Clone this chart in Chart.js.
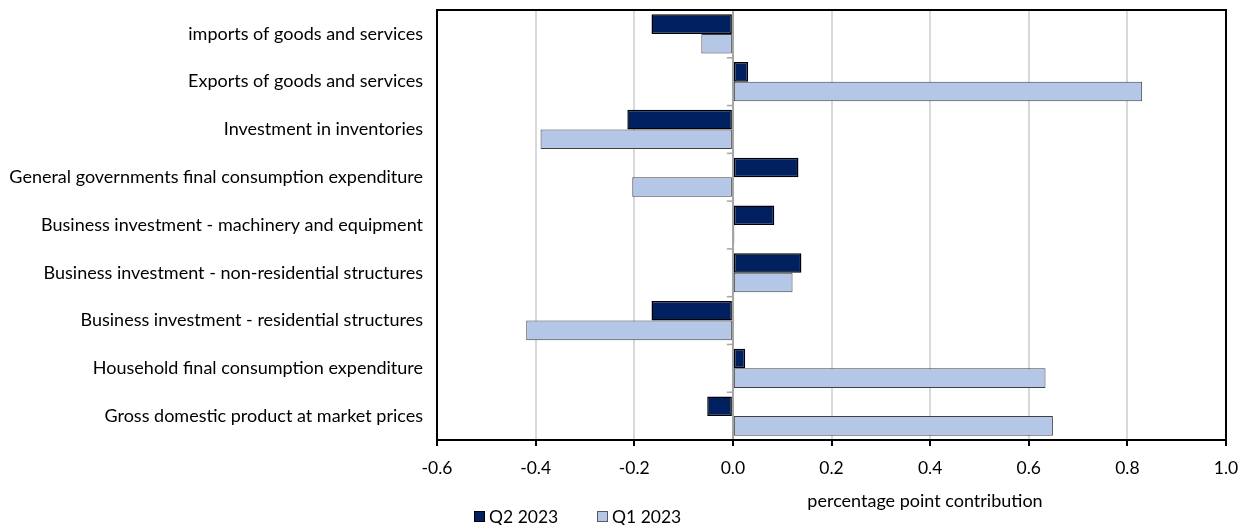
<!DOCTYPE html>
<html>
<head>
<meta charset="utf-8">
<script src="https://cdn.jsdelivr.net/npm/chart.js@4.4.1/dist/chart.umd.min.js"></script>
<style>
  html, body { margin: 0; padding: 0; background: #ffffff; }
  #wrap { position: relative; width: 1249px; height: 525px; }
</style>
</head>
<body>
<div id="wrap"><canvas id="contrib"></canvas></div>
<script>
// Chart data
const categories = [
    "imports of goods and services",
    "Exports of goods and services",
    "Investment in inventories",
    "General governments final consumption expenditure",
    "Business investment - machinery and equipment",
    "Business investment - non-residential structures",
    "Business investment - residential structures",
    "Household final consumption expenditure",
    "Gross domestic product at market prices"
];
const q2Values = [-0.165, 0.031, -0.214, 0.133, 0.084, 0.139, -0.165, 0.025, -0.052];
const q1Values = [-0.064, 0.830, -0.390, -0.204, 0.003, 0.121, -0.419, 0.634, 0.649];
const seriesNames = ["Q2 2023", "Q1 2023"];
const xTicks = [-0.6, -0.4, -0.2, 0.0, 0.2, 0.4, 0.6, 0.8, 1.0];
const axisTitle = "percentage point contribution";

const FONT = "Lato, 'Noto Sans', sans-serif";
const NAVY = "#002060";
const LIGHT = "#b4c7e7";

//====================================
// Frame, zero-line ticks, axis title and legend drawn after the chart
const extras = {
    id: "extras",
    afterDraw(chart){
        const ctx = chart.ctx;
        const a = chart.chartArea;
        const xs = chart.scales.x;
        ctx.save();

        // small tick marks on the zero line between categories
        const zx = xs.getPixelForValue(0);
        ctx.strokeStyle = "#a6a6a6";
        ctx.lineWidth = 1.5;
        const step = (a.bottom - a.top) / categories.length;
        for(let i = 0; i <= categories.length; i++){
            const y = a.top + i * step;
            ctx.beginPath();
            ctx.moveTo(zx - 6, y);
            ctx.lineTo(zx, y);
            ctx.stroke();
        }

        // black frame round the plot area
        ctx.strokeStyle = "#000000";
        ctx.lineWidth = 2;
        ctx.strokeRect(a.left, a.top, a.right - a.left, a.bottom - a.top);

        // axis title
        ctx.fillStyle = "#000000";
        ctx.font = "18px " + FONT;
        ctx.textAlign = "center";
        ctx.textBaseline = "middle";
        ctx.fillText(axisTitle, 925, 501);

        // legend
        const items = [
            {x: 474, fill: NAVY, stroke: "#000000"},
            {x: 597, fill: LIGHT, stroke: "#595959"}
        ];
        ctx.font = "17.5px " + FONT;
        ctx.textAlign = "left";
        items.forEach((it, i) => {
            ctx.fillStyle = it.fill;
            ctx.fillRect(it.x, 511, 11, 11);
            ctx.strokeStyle = it.stroke;
            ctx.lineWidth = 1;
            ctx.strokeRect(it.x + 0.5, 511.5, 10, 10);
            ctx.fillStyle = "#000000";
            ctx.fillText(seriesNames[i], it.x + 15, 517);
        });
        ctx.restore();
    }
};

//====================================
const canvas = document.getElementById("contrib");
canvas.width = 1249;
canvas.height = 525;

const chart = new Chart(canvas, {
    type: "bar",
    data: {
        labels: categories,
        datasets: [
            {label: seriesNames[0], data: q2Values, backgroundColor: NAVY,
             borderColor: "#000000", borderWidth: 1.5, borderSkipped: false},
            {label: seriesNames[1], data: q1Values, backgroundColor: LIGHT,
             borderColor: "#404040", borderWidth: 1, borderSkipped: false}
        ]
    },
    options: {
        indexAxis: "y",
        responsive: false,
        animation: false,
        devicePixelRatio: 1,
        layout: {padding: {left: 0, right: 23, top: 10, bottom: 0}},
        datasets: {bar: {categoryPercentage: 0.82, barPercentage: 1.0}},
        plugins: {legend: {display: false}, tooltip: {enabled: false}},
        scales: {
            x: {
                min: -0.6, max: 1.0,
                afterBuildTicks: (s) => { s.ticks = xTicks.map(v => ({value: v})); },
                afterFit: (s) => { s.height = 85; s.paddingLeft = 0; s.paddingRight = 0; },
                ticks: {
                    color: "#000000", padding: 12,
                    font: {family: FONT, size: 17.5},
                    callback: (v) => Number(v).toFixed(1)
                },
                grid: {
                    color: (c) => (c.tick && c.tick.value === 0) ? "#a6a6a6" : "#d9d9d9",
                    lineWidth: 2,
                    tickColor: "#000000",
                    tickLength: 6,
                    drawTicks: true
                },
                border: {display: false}
            },
            y: {
                afterFit: (s) => { s.width = 437; s.paddingTop = 0; s.paddingBottom = 0; },
                ticks: {
                    color: "#000000", padding: 6,
                    font: {family: FONT, size: 18}
                },
                grid: {display: false},
                border: {display: false}
            }
        }
    },
    plugins: [extras]
});
</script>
</body>
</html>
